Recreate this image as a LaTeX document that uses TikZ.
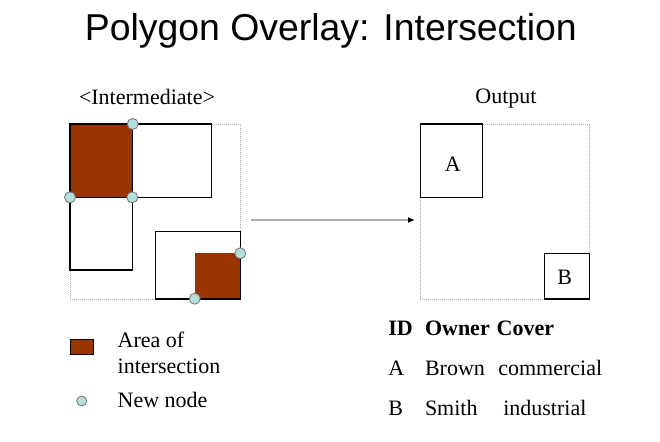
\documentclass[tikz,border=0pt]{standalone}
\usepackage{fontspec}
\setmainfont{Liberation Serif}
\newfontfamily\headfont{Liberation Sans}
\usetikzlibrary{arrows.meta}
\definecolor{areabrown}{RGB}{153,51,0}
\definecolor{nodecyan}{RGB}{180,222,222}

\begin{document}
\begin{tikzpicture}[x=1pt, y=-1pt,
  every node/.style={inner sep=0pt, outer sep=0pt},
  frame/.style={draw=gray!65, densely dotted, line width=1pt},
  poly/.style={draw=black, line width=1.2pt},
  area/.style={fill=areabrown},
  newnode/.style={circle, draw=black!55, fill=nodecyan, line width=0.8pt, minimum size=11pt},
  txt/.style={font=\fontsize{22}{26}\selectfont, anchor=base west},
  head/.style={font=\fontsize{22}{26}\selectfont, anchor=base},
  flow/.style={draw=gray!65, line width=1.3pt, -{Latex[black, length=7pt, width=6pt]}}]
\useasboundingbox (0,0) rectangle (660,441);
\node[anchor=base, font=\headfont\fontsize{37.4}{44}\selectfont] (title) at (330.8,40.7) {Polygon Overlay: Intersection};
\node[head] (interhead) at (147,104) {<Intermediate>};
\node[head] (outhead) at (506,103) {Output};
% intermediate
\node[frame, minimum width=170pt, minimum height=175pt] (inter) at (155.3,211.5) {};
\fill[area] (70,124) rectangle (132.3,197.3);
\fill[area] (195,253.3) rectangle (240.3,299);
\draw[poly] (70,124) rectangle (211.7,197.3);
\draw[poly] (70,124) rectangle (132.3,270);
\draw[poly] (155.7,231.7) rectangle (240.3,299);
\node[newnode] (n1) at (132.7,124) {};
\node[newnode] (n2) at (70,197.3) {};
\node[newnode] (n3) at (132.3,197.3) {};
\node[newnode] (n4) at (240.3,253.3) {};
\node[newnode] (n5) at (194.7,298.7) {};
% output
\node[frame, minimum width=169.4pt, minimum height=175pt] (out) at (505,211.5) {};
\node[poly, minimum width=62pt, minimum height=73.3pt] (boxA) at (451.3,160.7) {};
\node[poly, minimum width=45.4pt, minimum height=45.7pt] (boxB) at (567,276.2) {};
\node[font=\fontsize{22}{26}\selectfont] (labA) at (452.7,164.7) {A};
\node[font=\fontsize{22}{26}\selectfont] (labB) at (564.8,277.2) {B};
\draw[flow] ([shift={(10.7,8.5)}]inter.east) -- ([shift={(-5.3,8.5)}]out.west);
% legend
\node[draw=black, line width=0.8pt, fill=areabrown, minimum width=23.3pt, minimum height=15.3pt] (keyarea) at (81.7,346.7) {};
\node[newnode, minimum size=10pt] (keynode) at (81.7,401) {};
\node[txt] (area1) at (117.7,347.3) {Area of};
\node[txt] (area2) at (117.7,373.3) {intersection};
\node[txt] (newlab) at (117.7,407.3) {New node};
% table
\node[txt, font=\fontsize{22}{26}\selectfont\bfseries] (hid) at (388.3,335.7) {ID};
\node[txt, font=\fontsize{22}{26}\selectfont\bfseries] (hown) at (425,335.7) {Owner};
\node[txt, font=\fontsize{22}{26}\selectfont\bfseries] (hcov) at (496.7,335.7) {Cover};
\node[txt] (aid) at (388.3,375) {A};
\node[txt] (aown) at (425,375) {Brown};
\node[txt] (acov) at (498.3,375) {commercial};
\node[txt] (bid) at (388.3,415) {B};
\node[txt] (bown) at (425,415) {Smith};
\node[txt] (bcov) at (503.3,415) {industrial};
\end{tikzpicture}
\end{document}
